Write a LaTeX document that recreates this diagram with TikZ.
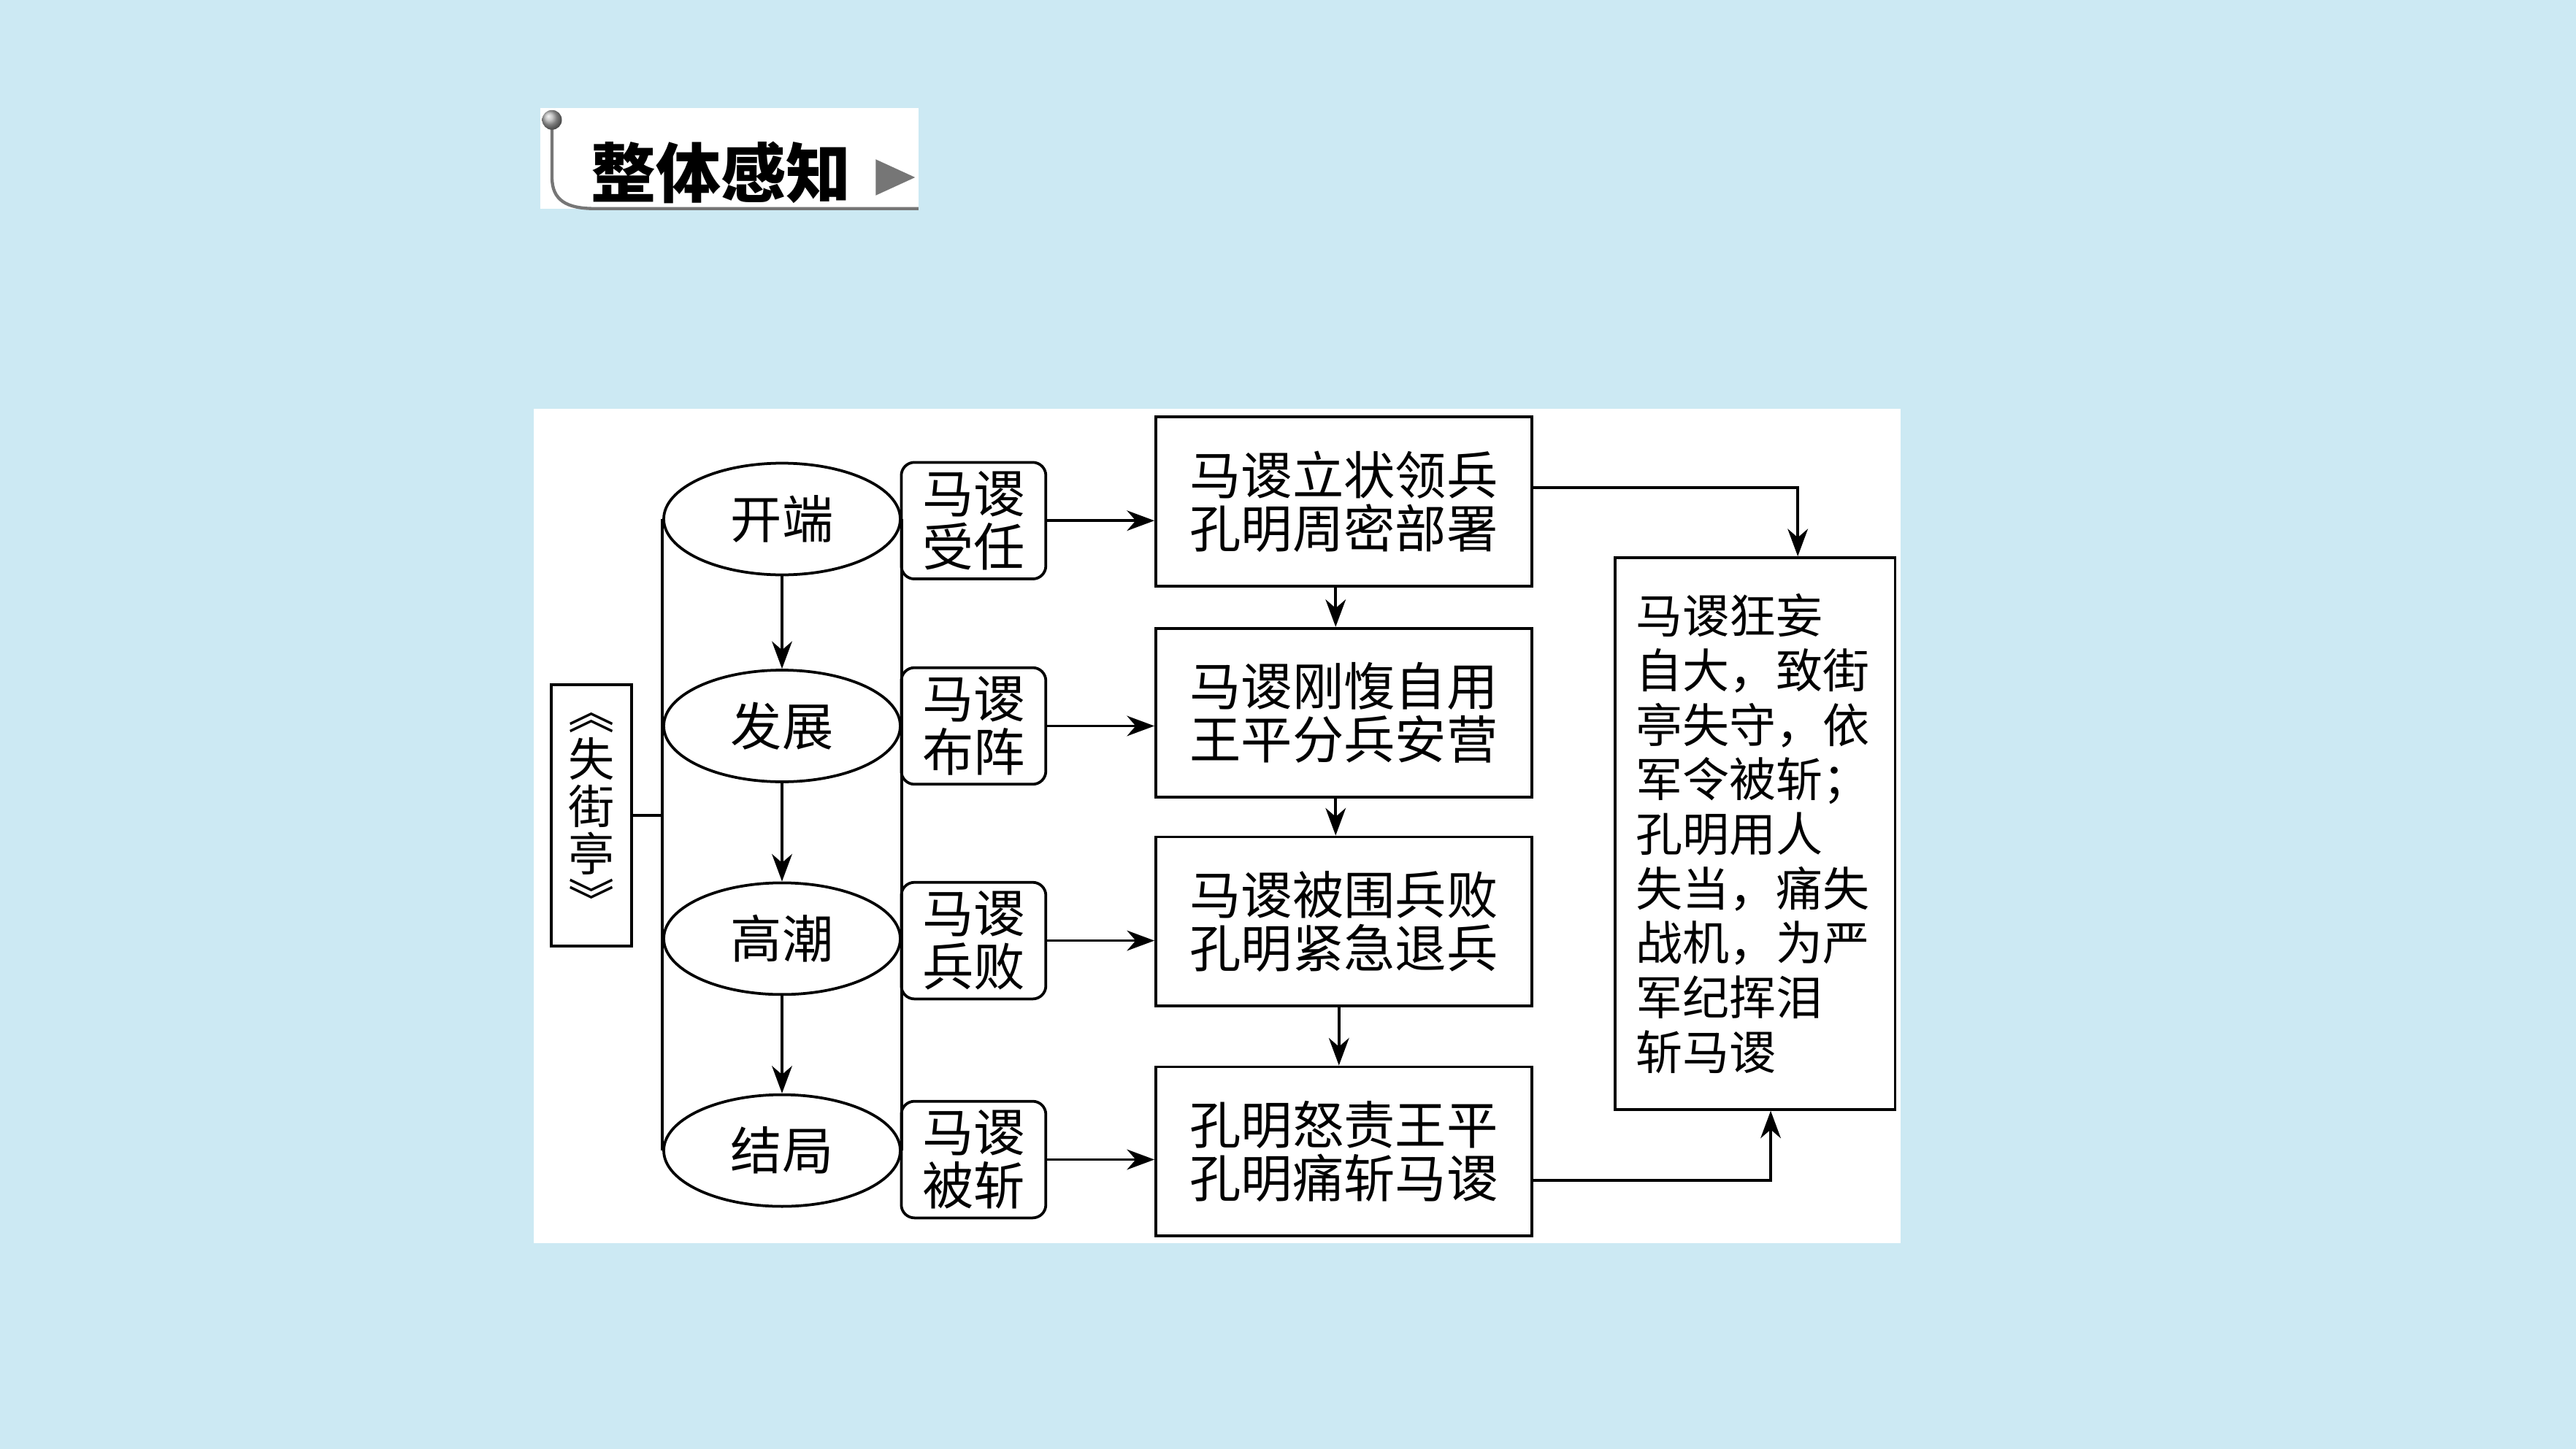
\documentclass[tikz,border=0pt]{standalone}
\usepackage{fontspec}
\setmainfont{Noto Sans CJK SC}
\usetikzlibrary{shapes.geometric,arrows.meta,positioning}
\definecolor{bgblue}{RGB}{204,233,243}
\definecolor{tabgray}{RGB}{118,118,118}

\begin{document}
\begin{tikzpicture}[x=0.02cm,y=-0.02cm,
  font=\fontsize{17.8pt}{18.4pt}\selectfont,
  frame/.style={draw,line width=0.95pt},
  stage/.style={frame,ellipse,minimum width=2.88cm,minimum height=1.36cm,inner sep=0pt},
  tag/.style={frame,rounded corners=0.16cm,minimum width=1.76cm,minimum height=1.42cm,inner sep=0pt,align=center},
  event/.style={frame,minimum width=4.58cm,minimum height=2.06cm,inner sep=0pt,align=center},
  arr/.style={line width=0.95pt,-{Stealth[length=9.5pt,width=7pt,inset=3pt]}},
  link/.style={line width=0.95pt}]
% background and panel
\fill[bgblue] (0,0) rectangle (1568,882);
\useasboundingbox (0,0) rectangle (1568,882);
\fill[white] (325,249) rectangle (1157,757);

% heading tab
\fill[white] (329,66) rectangle (559,127);
\draw[tabgray,line width=1.1pt] (336,74) -- (336,108) .. controls (336,122) and (345,127) .. (362,127) -- (559,127);
\shade[ball color=gray!60] (336,73) circle (0.12cm);
\node[font=\fontsize{22.5pt}{24pt}\selectfont\bfseries] (heading) at (439,105) {整体感知};
\fill[tabgray] (533,97) -- (557,108) -- (533,119) -- cycle;

% title of the text
\node[frame,minimum width=0.98cm,minimum height=3.18cm,inner sep=0pt,align=center,
  font=\fontsize{16pt}{16.4pt}\selectfont] (work) at (360,496.5) {︽\\失\\街\\亭\\︾};

% plot stages
\node[stage] (kai) at (476,316) {开端};
\node[stage] (fa) at (476,442) {发展};
\node[stage] (gao) at (476,571.5) {高潮};
\node[stage] (jie) at (476,700.5) {结局};
\draw[link] (kai.west) -- (jie.west);
\draw[link] (kai.east) -- (jie.east);
\draw[link] (work.east) -- (work.east -| kai.west);
\draw[arr] (kai.south) -- (fa.north);
\draw[arr] (fa.south) -- (gao.north);
\draw[arr] (gao.south) -- (jie.north);

% what happens to Ma Su
\node[tag] (t1) at (592.6,317) {马谡\\受任};
\node[tag] (t2) at (592.6,442) {马谡\\布阵};
\node[tag] (t3) at (592.6,572.7) {马谡\\兵败};
\node[tag] (t4) at (592.6,706) {马谡\\被斩};

\node[event] (e1) at (818,305.4) {马谡立状领兵\\孔明周密部署};
\node[event] (e2) at (818,434) {马谡刚愎自用\\王平分兵安营};
\node[event] (e3) at (818,561) {马谡被围兵败\\孔明紧急退兵};
\node[event] (e4) at (818,701) {孔明怒责王平\\孔明痛斩马谡};

\foreach \i in {1,...,4}
  \draw[arr] (t\i.east) -- (t\i.east -| e\i.west);
\draw[arr] ([xshift=-0.1cm]e1.south) -- ([xshift=-0.1cm]e2.north);
\draw[arr] ([xshift=-0.1cm]e2.south) -- ([xshift=-0.1cm]e3.north);
\draw[arr] ([xshift=-0.06cm]e3.south) -- ([xshift=-0.06cm]e4.north);

% outcome
\node[frame,minimum width=3.41cm,minimum height=6.72cm,text width=2.9cm,align=left,
  inner xsep=0.25cm,inner ysep=0pt,font=\fontsize{16.2pt}{18.9pt}\selectfont] (verdict) at (1068.3,507.5)
  {马谡狂妄\\自大，致街\\亭失守，依\\军令被斩；\\孔明用人\\失当，痛失\\战机，为严\\军纪挥泪\\斩马谡};
\draw[arr] ([yshift=0.17cm]e1.east) -| ([xshift=0.52cm]verdict.north);
\draw[arr] ([yshift=-0.35cm]e4.east) -| ([xshift=0.19cm]verdict.south);
\end{tikzpicture}
\end{document}
